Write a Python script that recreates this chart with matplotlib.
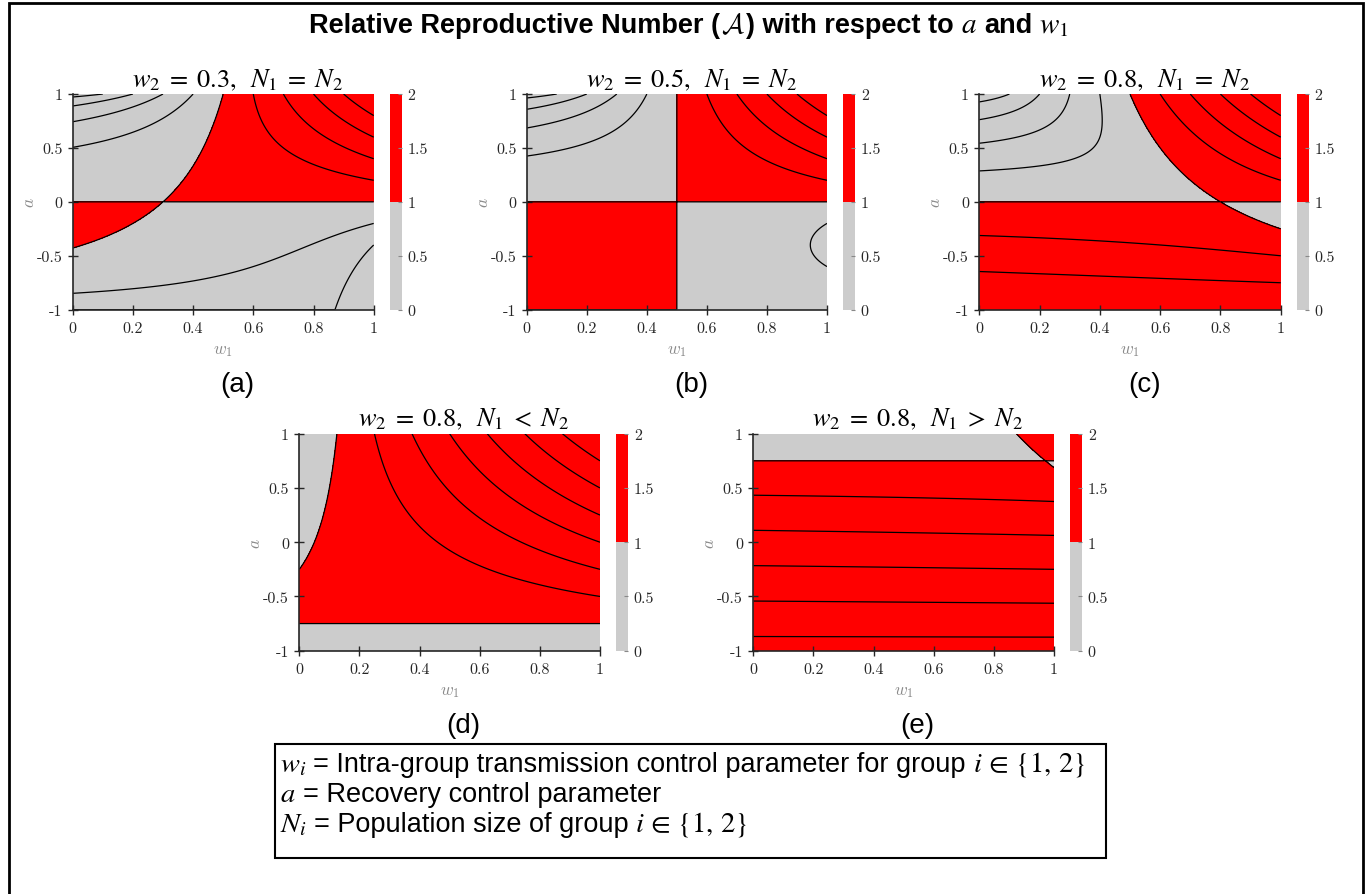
import numpy as np
import matplotlib
matplotlib.use("Agg")
import matplotlib.pyplot as plt
from matplotlib.colors import ListedColormap, BoundaryNorm
from matplotlib.cm import ScalarMappable
from matplotlib.patches import Rectangle

W, H, DPI = 1370, 895, 100
plt.rcParams["axes.unicode_minus"] = False

# ---- panel settings ------------------------------------------------------
panel_tags = ["(a)", "(b)", "(c)", "(d)", "(e)"]
w2_values = [0.3, 0.5, 0.8, 0.8, 0.8]
N1_sizes = [1, 1, 1, 1, 7]
N2_sizes = [1, 1, 1, 7, 1]
size_relations = ["=", "=", "=", "<", ">"]
contour_steps = [0.2, 0.2, 0.2, 1.0, 1.0]
w1_ticks = [0, 0.2, 0.4, 0.6, 0.8, 1]
w1_ticklabels = ["0", "0.2", "0.4", "0.6", "0.8", "1"]
a_ticks = [-1, -0.5, 0, 0.5, 1]
a_ticklabels = ["-1", "-0.5", "0", "0.5", "1"]
cbar_ticks = [0, 0.5, 1, 1.5, 2]
cbar_ticklabels = ["0", "0.5", "1", "1.5", "2"]
region_bounds = [0, 1, 2]
region_colors = ["#cccccc", "#ff0000"]

# axes boxes in pixels: x_left, x_right, y_top, y_bottom, cbar_left, cbar_right
boxes = [
    (72.7, 373.7, 95, 310.7, 390.0, 402.0),
    (526.7, 827.0, 95, 310.7, 843.3, 855.3),
    (979.3, 1280.7, 95, 310.7, 1297.0, 1309.0),
    (299.3, 600.0, 434.7, 651.7, 616.0, 628.3),
    (753.3, 1054.0, 434.7, 651.7, 1070.0, 1082.3),
]

SANS = "Liberation Sans"
TICK_FONT = "cmr10"
DARK = "#262626"


def relative_reproductive_number(w1, a, w2, n1, n2):
    """Spectral radius of the next-generation matrix relative to uniform recovery."""
    x1 = (1 + a) / 2
    x2 = (1 - a) / 2
    d1 = x1 / n1
    d2 = x2 / n2
    tr = w1 * d1 + w2 * d2
    det = (w1 + w2 - 1) * d1 * d2
    return 0.5 * (tr + np.sqrt(np.maximum(tr ** 2 - 4 * det, 0)))


def fig_rect(x0, x1, ytop, ybot):
    return [x0 / W, 1 - ybot / H, (x1 - x0) / W, (ybot - ytop) / H]


def fxy(x, y):
    return x / W, 1 - y / H


fig = plt.figure(figsize=(W / DPI, H / DPI), dpi=DPI)
renderer = fig.canvas.get_renderer()


def text_runs(x, y, runs, align="left"):
    """Place a sequence of differently styled strings on one baseline."""
    items, total = [], 0.0
    for s, kw, gap in runs:
        t = fig.text(0, 0, s, ha="left", va="baseline", **kw)
        wpx = t.get_window_extent(renderer).width
        items.append((t, wpx, gap))
        total += wpx + gap
    total -= items[-1][2]
    cur = x - total / 2 if align == "center" else x
    for t, wpx, gap in items:
        t.set_position(fxy(cur, y))
        cur += wpx + gap


w1_grid = np.linspace(0, 1, 400)
a_grid = np.linspace(-1, 1, 400)
W1, AA = np.meshgrid(w1_grid, a_grid)

cmap = ListedColormap(region_colors)
norm = BoundaryNorm(region_bounds, cmap.N)

for k in range(5):
    x0, x1, yt, yb, c0, c1 = boxes[k]
    n1 = N1_sizes[k] / (N1_sizes[k] + N2_sizes[k])
    n2 = N2_sizes[k] / (N1_sizes[k] + N2_sizes[k])
    R = relative_reproductive_number(W1, AA, w2_values[k], n1, n2)

    ax = fig.add_axes(fig_rect(x0, x1, yt, yb))
    ax.contourf(W1, AA, R, levels=[-1, 1, R.max() + 1], colors=region_colors)
    step = contour_steps[k]
    levels = np.round(np.arange(step, R.max(), step), 6)
    ax.contour(W1, AA, R, levels=levels, colors="black", linewidths=0.9)

    ax.set_xlim(0, 1)
    ax.set_ylim(-1, 1)
    for side in ("top", "right"):
        ax.spines[side].set_visible(False)
    for side in ("left", "bottom"):
        ax.spines[side].set_color(DARK)
        ax.spines[side].set_linewidth(1.2)
    ax.set_xticks(w1_ticks)
    ax.set_xticklabels(w1_ticklabels, fontfamily=TICK_FONT, fontsize=11.5, color=DARK)
    ax.set_yticks(a_ticks)
    ax.set_yticklabels(a_ticklabels, fontfamily=TICK_FONT, fontsize=11.5, color=DARK)
    ax.tick_params(direction="inout", length=7, width=1, color=DARK, pad=4)
    ax.tick_params(axis="x", pad=5)

    # colour bar
    cax = fig.add_axes(fig_rect(c0, c1, yt, yb))
    cb = fig.colorbar(ScalarMappable(norm=norm, cmap=cmap), cax=cax, ticks=cbar_ticks)
    cb.outline.set_visible(False)
    cax.set_yticklabels(cbar_ticklabels, fontfamily=TICK_FONT, fontsize=11.5, color=DARK)
    cax.tick_params(direction="in", length=3, width=0.8, color="#888888", pad=4)

    # axis labels
    xc = (x0 + x1) / 2
    fig.text(*fxy(xc, yb + 39), "$w_1$", ha="center", va="center", fontsize=12.5,
             color="#8a8a8a", math_fontfamily="cm")
    fig.text(*fxy(x0 - 44, (yt + yb) / 2), "$a$", ha="center", va="center", fontsize=12.5,
             color="#8a8a8a", rotation=90, math_fontfamily="cm")

    # panel title and tag
    span_c = (x0 + c1) / 2
    title = r"$w_2\;=\;%s,\;\;N_1\;%s\;N_2$" % (w2_values[k], size_relations[k])
    fig.text(*fxy(span_c, yt - 8), title, ha="center", va="baseline", fontsize=19,
             math_fontfamily="stix")
    fig.text(*fxy(span_c, yb + 81), panel_tags[k], ha="center", va="baseline",
             fontsize=20, family=SANS)

# main title
bold = dict(family=SANS, fontsize=19.5, fontweight="bold")
text_runs(689, 33, [
    ("Relative Reproductive Number (", bold, 1),
    (r"$\mathcal{A}$", dict(fontsize=19.5, math_fontfamily="cm"), 1),
    (") with respect to", bold, 7),
    ("$a$", dict(fontsize=21, math_fontfamily="stix"), 7),
    ("and", bold, 7),
    ("$w_1$", dict(fontsize=21, math_fontfamily="stix"), 0),
], align="center")

# parameter key
fig.patches.append(Rectangle(fxy(275, 859), (1106 - 275) / W, (859 - 745) / H,
                             transform=fig.transFigure, fill=False, lw=1.5,
                             edgecolor="black"))
plain = dict(family=SANS, fontsize=19.5)
mth = dict(fontsize=20.5, math_fontfamily="stix")
text_runs(280, 772, [
    ("$w_i$", mth, 7),
    ("= Intra-group transmission control parameter for group", plain, 7),
    (r"$i\,\in\,\{1,\,2\}$", mth, 0),
])
text_runs(280, 802, [
    ("$a$", mth, 7),
    ("= Recovery control parameter", plain, 0),
])
text_runs(280, 832, [
    ("$N_i$", mth, 7),
    ("= Population size of group", plain, 7),
    (r"$i\,\in\,\{1,\,2\}$", mth, 0),
])

# outer frame
fig.patches.append(Rectangle(fxy(9, 905), (1363 - 9) / W, (905 - 4) / H,
                             transform=fig.transFigure, fill=False, lw=2,
                             edgecolor="black"))

fig.savefig("out.png", dpi=DPI)
